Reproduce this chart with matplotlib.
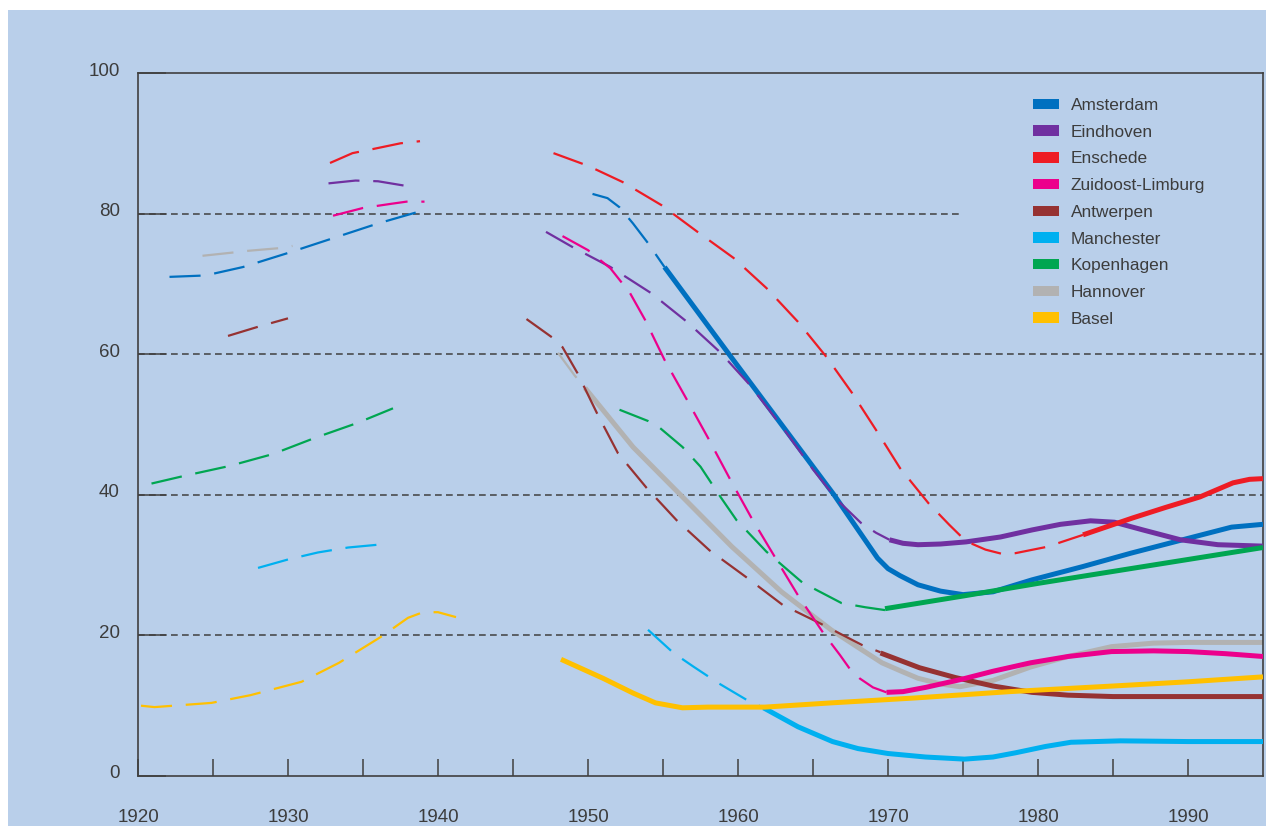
import matplotlib
matplotlib.use("Agg")
import matplotlib.pyplot as plt
from matplotlib.patches import Patch, Rectangle
from matplotlib.transforms import ScaledTranslation

plt.rcParams['font.family'] = ['Liberation Sans', 'DejaVu Sans']

# ---------------- data ----------------
cities = ["Amsterdam", "Eindhoven", "Enschede", "Zuidoost-Limburg", "Antwerpen",
          "Manchester", "Kopenhagen", "Hannover", "Basel"]
colors = ["#0070c0", "#7030a0", "#ee1c24", "#ec008c", "#963232",
          "#00b0f0", "#00a651", "#b2b2b2", "#ffc000"]

# Amsterdam
ams_pre_x = [1922.1, 1924.5, 1927, 1930, 1933, 1936, 1938.6]
ams_pre_y = [71.0, 71.2, 72.4, 74.4, 76.5, 78.6, 80.2]
ams_dash_x = [1950.3, 1951.3, 1952.1, 1953, 1954, 1955.1]
ams_dash_y = [82.8, 82.2, 80.9, 78.6, 75.8, 72.4]
ams_solid_x = [1955.1, 1959.4, 1966.4, 1969.3, 1970, 1970.8, 1972, 1973.5, 1975, 1977,
               1979.6, 1983, 1986.2, 1990, 1992.9, 1995]
ams_solid_y = [72.4, 60, 40, 31, 29.5, 28.5, 27.2, 26.3, 25.8, 26.2,
               27.9, 29.8, 31.7, 33.8, 35.4, 35.8]

# Eindhoven
ein_pre_x = [1932.7, 1934.5, 1936, 1937.7]
ein_pre_y = [84.3, 84.7, 84.6, 84.0]
ein_dash_x = [1947.2, 1949, 1951.5, 1954.2, 1956.6, 1958.8, 1960.8, 1963, 1965, 1966.6,
              1968.2, 1969.2, 1970.1]
ein_dash_y = [77.4, 75.2, 72.4, 68.7, 64.6, 60.3, 55.6, 49.5, 43.6, 39.3,
              36.0, 34.6, 33.6]
ein_solid_x = [1970.1, 1971, 1972, 1973.5, 1975.2, 1977.5, 1979.6, 1981.5, 1983.5, 1985.1,
               1987, 1989.5, 1992, 1995]
ein_solid_y = [33.6, 33.1, 32.9, 33.0, 33.3, 34.0, 35.0, 35.8, 36.3, 36.1,
               35.0, 33.6, 32.9, 32.7]

# Enschede
ens_pre_x = [1932.8, 1934.3, 1935.7, 1937.5, 1938.8]
ens_pre_y = [87.2, 88.6, 89.2, 90.0, 90.3]
ens_dash_x = [1947.7, 1950, 1952.3, 1954.9, 1957.3, 1959.7, 1961.9, 1964, 1965.9, 1967.6,
              1969.3, 1970.8, 1972.7, 1974.1, 1975.2, 1976.5, 1977.6, 1978.5, 1980.6, 1983]
ens_dash_y = [88.6, 86.8, 84.5, 81.2, 77.4, 73.7, 69.4, 64.6, 59.6, 54.5,
              48.9, 43.8, 38.8, 35.7, 33.4, 32.2, 31.6, 31.7, 32.6, 34.3]
ens_solid_x = [1983, 1986.3, 1988.5, 1990.8, 1993, 1994.1, 1995]
ens_solid_y = [34.3, 36.7, 38.2, 39.7, 41.7, 42.2, 42.3]

# Zuidoost-Limburg
zl_pre_x = [1933, 1935, 1936.9, 1937.9, 1939.1]
zl_pre_y = [79.7, 80.8, 81.4, 81.7, 81.7]
zl_dash_x = [1948.3, 1950, 1951.5, 1952.8, 1953.8, 1955.1, 1956.6, 1958, 1959.5, 1960.9,
             1962.5, 1964, 1965.7, 1966.8, 1967.5, 1968.1, 1969, 1969.9]
zl_dash_y = [76.8, 74.8, 72.2, 68.7, 64.9, 59.2, 53.5, 48.1, 42.1, 36.7,
             31.0, 25.7, 20.3, 17.2, 15.1, 13.9, 12.6, 11.9]
zl_solid_x = [1969.9, 1971, 1972.5, 1974.8, 1977, 1979.5, 1982, 1984.9, 1987.7, 1990, 1992.5, 1995]
zl_solid_y = [11.9, 12.0, 12.6, 13.7, 14.9, 16.1, 17.0, 17.7, 17.8, 17.7, 17.4, 17.0]

# Antwerpen
ant_pre_x = [1926, 1928, 1930]
ant_pre_y = [62.6, 63.9, 65.1]
ant_dash_x = [1945.9, 1947.6, 1948.3, 1949.3, 1950.6, 1952, 1953.9, 1955.9, 1958.1, 1960.6,
              1963, 1965.3, 1968.3, 1969.5]
ant_dash_y = [65, 62.4, 61, 57.3, 51.6, 45.9, 41, 36.4, 32.1, 28.2,
              24.3, 21.9, 18.6, 17.6]
ant_solid_x = [1969.5, 1972.1, 1974.5, 1977, 1979.6, 1982, 1985, 1990, 1995]
ant_solid_y = [17.5, 15.4, 14.0, 12.8, 11.9, 11.5, 11.3, 11.3, 11.3]

# Manchester
man_pre_x = [1928, 1930, 1932, 1934, 1936]
man_pre_y = [29.6, 30.8, 31.8, 32.5, 32.9]
man_dash_x = [1954, 1955.7, 1957, 1958.7, 1960.6, 1961.7]
man_dash_y = [20.8, 17.5, 15.6, 13.2, 10.8, 9.7]
man_solid_x = [1961.7, 1964, 1966.3, 1968, 1970, 1972.5, 1975.1, 1977, 1978.5, 1980.5,
               1982.2, 1985.5, 1990, 1995]
man_solid_y = [9.7, 7.0, 4.9, 3.9, 3.2, 2.7, 2.4, 2.7, 3.3, 4.2,
               4.8, 5.0, 4.9, 4.9]

# Kopenhagen
kop_pre_x = [1920.9, 1923.1, 1926.1, 1929, 1931.8, 1934.6, 1937]
kop_pre_y = [41.6, 42.7, 44.1, 45.8, 48.1, 50.2, 52.3]
kop_dash_x = [1952.1, 1954, 1954.8, 1956.3, 1957.5, 1958.8, 1959.9, 1961.9, 1964.3, 1966.9,
              1968.5, 1969.8]
kop_dash_y = [52.1, 50.5, 49.5, 46.8, 44.0, 39.8, 36.4, 31.9, 27.5, 24.6,
              24.0, 23.6]
kop_solid_x = [1969.8, 1975, 1980, 1985, 1990, 1995]
kop_solid_y = [23.8, 25.6, 27.4, 29.1, 30.8, 32.5]

# Hannover
han_pre_x = [1924.3, 1926.5, 1927.3, 1929.5, 1930.3]
han_pre_y = [74.0, 74.5, 74.7, 75.1, 75.4]
han_dash_x = [1948, 1949.1, 1949.8]
han_dash_y = [60.2, 57, 55.2]
han_solid_x = [1949.8, 1953, 1956.3, 1959.6, 1962.9, 1966.2, 1968, 1969.6, 1971, 1972,
               1973.5, 1974.8, 1977, 1979.5, 1982, 1984.9, 1987.7, 1990, 1995]
han_solid_y = [55.2, 46.8, 39.7, 32.6, 26.2, 20.8, 18.3, 16.1, 14.8, 13.9,
               13.1, 12.7, 13.6, 15.5, 17.0, 18.4, 18.9, 19.0, 19.0]

# Basel
bas_pre_x = [1920.2, 1921.1, 1923, 1924.9, 1927.5, 1930.9, 1933.4, 1936.2, 1938, 1939, 1940, 1941.2]
bas_pre_y = [10.0, 9.8, 10.1, 10.4, 11.5, 13.4, 16.1, 19.8, 22.5, 23.3, 23.3, 22.6]
bas_dash_x = []
bas_dash_y = []
bas_solid_x = [1948.2, 1951, 1953, 1954.5, 1956.3, 1958, 1961.8, 1966.2, 1971.8, 1978.1,
               1985, 1990, 1995]
bas_solid_y = [16.6, 13.9, 11.8, 10.4, 9.7, 9.8, 9.8, 10.4, 11.1, 12.0,
               12.8, 13.4, 14.1]

series = {
    "Amsterdam": [(ams_pre_x, ams_pre_y), (ams_dash_x, ams_dash_y), (ams_solid_x, ams_solid_y)],
    "Eindhoven": [(ein_pre_x, ein_pre_y), (ein_dash_x, ein_dash_y), (ein_solid_x, ein_solid_y)],
    "Enschede": [(ens_pre_x, ens_pre_y), (ens_dash_x, ens_dash_y), (ens_solid_x, ens_solid_y)],
    "Zuidoost-Limburg": [(zl_pre_x, zl_pre_y), (zl_dash_x, zl_dash_y), (zl_solid_x, zl_solid_y)],
    "Antwerpen": [(ant_pre_x, ant_pre_y), (ant_dash_x, ant_dash_y), (ant_solid_x, ant_solid_y)],
    "Manchester": [(man_pre_x, man_pre_y), (man_dash_x, man_dash_y), (man_solid_x, man_solid_y)],
    "Kopenhagen": [(kop_pre_x, kop_pre_y), (kop_dash_x, kop_dash_y), (kop_solid_x, kop_solid_y)],
    "Hannover": [(han_pre_x, han_pre_y), (han_dash_x, han_dash_y), (han_solid_x, han_solid_y)],
    "Basel": [(bas_pre_x, bas_pre_y), (bas_dash_x, bas_dash_y), (bas_solid_x, bas_solid_y)],
}
zorders = {"Hannover": 2, "Amsterdam": 3, "Eindhoven": 4, "Enschede": 5, "Antwerpen": 5.5,
           "Zuidoost-Limburg": 6, "Manchester": 6.5, "Kopenhagen": 7, "Basel": 8}

y_ticks = [0, 20, 40, 60, 80, 100]
x_major = [1920, 1930, 1940, 1950, 1960, 1970, 1980, 1990]
x_minor = [1925, 1935, 1945, 1955, 1965, 1975, 1985]
grid_levels = [20, 40, 60, 80]
grid_ends = [1995, 1995, 1995, 1974.8]

# ---------------- styling ----------------
bg = "#b9cfea"
txt = "#3c3c3c"
axc = "#404040"

fig = plt.figure(figsize=(12.66, 8.26), dpi=100, facecolor="white")
fig.patches.append(Rectangle((8 / 1266, 0), 1, (826 - 10) / 826, transform=fig.transFigure,
                             facecolor=bg, edgecolor="none", zorder=-10))
ax = fig.add_axes([138 / 1266, 1 - 776 / 826, (1263 - 138) / 1266, (776 - 73) / 826])
ax.set_facecolor(bg)
ax.set_xlim(1920, 1995)
ax.set_ylim(0, 100)

for lvl, xe in zip(grid_levels, grid_ends):
    ax.hlines(lvl, 1920, xe, colors=axc, linewidth=1.1, linestyles=(0, (4.4, 2.8)), zorder=1)

lw_thin = 1.6
lw_thick = 3.6
for name, col in zip(cities, colors):
    (px, py), (dx, dy), (sx, sy) = series[name]
    z = zorders[name]
    if px:
        ax.plot(px, py, color=col, lw=lw_thin, linestyle=(0, (14, 6.2)),
                dash_capstyle="butt", solid_joinstyle="round", zorder=z)
    if dx:
        ax.plot(dx, dy, color=col, lw=lw_thin, linestyle=(0, (14, 6.2)),
                dash_capstyle="butt", dash_joinstyle="round", zorder=z)
    if sx:
        ax.plot(sx, sy, color=col, lw=lw_thick, solid_capstyle="butt",
                solid_joinstyle="round", zorder=z + 0.1)

for sp in ax.spines.values():
    sp.set_color(axc)
    sp.set_linewidth(1.2)

ax.set_xticks(x_major)
ax.set_xticks(x_minor, minor=True)
ax.set_yticks(y_ticks)
ax.tick_params(axis="x", which="both", direction="in", length=12, width=1.1, color=axc,
               labelsize=13.5, labelcolor=txt, pad=24)
ax.tick_params(axis="y", which="both", direction="in", length=20, width=1.1, color=axc,
               labelsize=13.5, labelcolor=txt, pad=13)
ax.tick_params(axis="x", which="minor", labelbottom=False)
for lab in ax.get_yticklabels():
    lab.set_transform(lab.get_transform() + ScaledTranslation(0, 4 / 100, fig.dpi_scale_trans))

handles = [Patch(facecolor=c, edgecolor="none", label=n) for n, c in zip(cities, colors)]
leg = ax.legend(handles=handles, loc="upper left", bbox_to_anchor=(1033 / 1266, 1 - 98 / 826),
                bbox_transform=fig.transFigure, frameon=False, fontsize=12.4,
                handlelength=1.5, handleheight=0.55, handletextpad=0.68,
                labelspacing=0.68, borderpad=0, borderaxespad=0, labelcolor=txt)

fig.savefig("out.png", dpi=100, facecolor=fig.get_facecolor())
